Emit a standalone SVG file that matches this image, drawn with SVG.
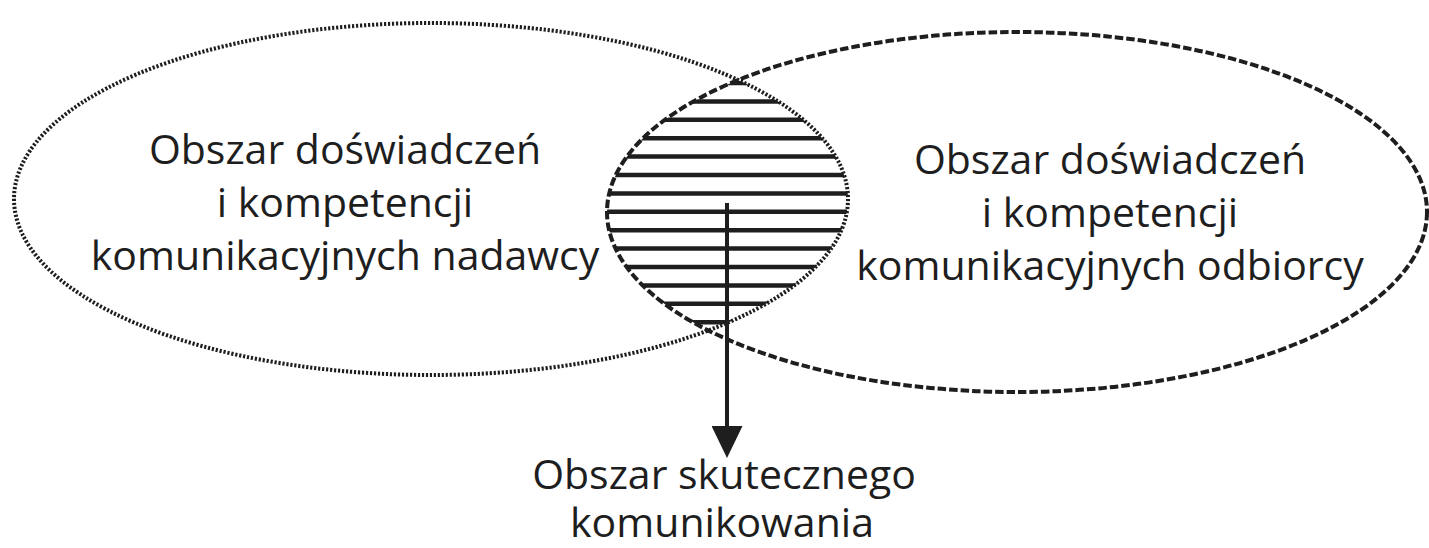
<svg xmlns="http://www.w3.org/2000/svg" width="1429" height="548" viewBox="0 0 1429 548">
  <style>
    .lbl { font-family: "Open Sans", "Noto Sans", "DejaVu Sans", sans-serif; font-size: 41px; fill: #1e1e1e; text-anchor: middle; }
    .dotted { fill: none; stroke: #1e1e1e; stroke-width: 4; stroke-dasharray: 2.2 1.8; }
    .dashed { fill: none; stroke: #1e1e1e; stroke-width: 4; stroke-dasharray: 8.5 3; }
    .hatch { stroke: #1e1e1e; stroke-width: 4.5; }
    .conn { stroke: #1e1e1e; stroke-width: 4; fill: none; }
  </style>
  <defs>
    <clipPath id="clipLeft">
      <ellipse cx="431" cy="199" rx="417" ry="176"/>
    </clipPath>
    <clipPath id="clipRight">
      <ellipse cx="1017" cy="212" rx="410" ry="180"/>
    </clipPath>
    <marker id="arrowHead" markerUnits="userSpaceOnUse" markerWidth="32" markerHeight="31" refX="14" refY="15.5" orient="auto">
      <path d="M0,0 L32,15.5 L0,31 Z" fill="#1e1e1e"/>
    </marker>
  </defs>
  <rect width="1429" height="548" fill="#ffffff"/>

  <g id="overlap">
    <g clip-path="url(#clipLeft)">
      <g clip-path="url(#clipRight)">
        <line class="hatch" x1="590" y1="83" x2="870" y2="83"/>
        <line class="hatch" x1="590" y1="101.4" x2="870" y2="101.4"/>
        <line class="hatch" x1="590" y1="119.8" x2="870" y2="119.8"/>
        <line class="hatch" x1="590" y1="138.2" x2="870" y2="138.2"/>
        <line class="hatch" x1="590" y1="156.6" x2="870" y2="156.6"/>
        <line class="hatch" x1="590" y1="175" x2="870" y2="175"/>
        <line class="hatch" x1="590" y1="193.4" x2="870" y2="193.4"/>
        <line class="hatch" x1="590" y1="211.8" x2="870" y2="211.8"/>
        <line class="hatch" x1="590" y1="230.2" x2="870" y2="230.2"/>
        <line class="hatch" x1="590" y1="248.6" x2="870" y2="248.6"/>
        <line class="hatch" x1="590" y1="267" x2="870" y2="267"/>
        <line class="hatch" x1="590" y1="285.4" x2="870" y2="285.4"/>
        <line class="hatch" x1="590" y1="303.8" x2="870" y2="303.8"/>
        <line class="hatch" x1="590" y1="322.2" x2="870" y2="322.2"/>
      </g>
    </g>
  </g>

  <g id="sender">
    <ellipse class="dotted" cx="431" cy="199" rx="417" ry="176"/>
    <text class="lbl" x="345" y="164">Obszar doświadczeń</text>
    <text class="lbl" x="345" y="217">i kompetencji</text>
    <text class="lbl" x="345" y="270">komunikacyjnych nadawcy</text>
  </g>

  <g id="receiver">
    <ellipse class="dashed" cx="1017" cy="212" rx="410" ry="180"/>
    <text class="lbl" x="1110" y="174">Obszar doświadczeń</text>
    <text class="lbl" x="1110" y="227">i kompetencji</text>
    <text class="lbl" x="1110" y="280">komunikacyjnych odbiorcy</text>
  </g>

  <g id="result">
    <text class="lbl" x="724" y="489">Obszar skutecznego</text>
    <text class="lbl" x="722" y="537">komunikowania</text>
  </g>

  <g id="connectors">
    <line class="conn" x1="727" y1="203" x2="727" y2="440" marker-end="url(#arrowHead)"/>
  </g>
</svg>
